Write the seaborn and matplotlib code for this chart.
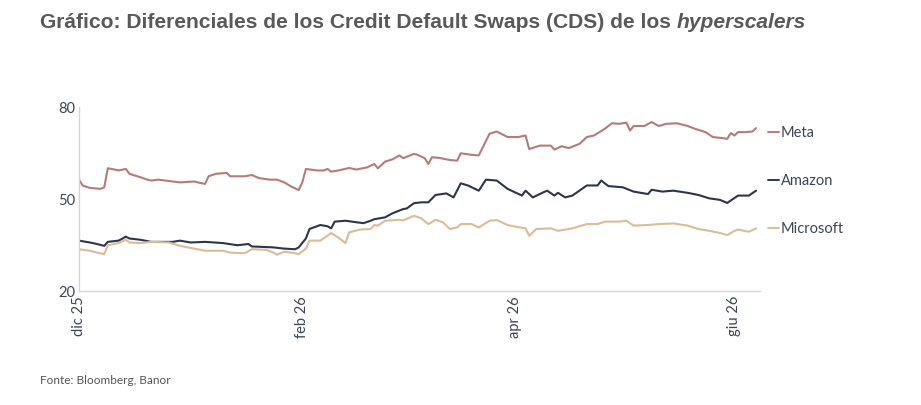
import pandas as pd
import seaborn as sns
import matplotlib.pyplot as plt

# values (bp)
meta_dates = ["2025-12-01", "2025-12-02", "2025-12-04", "2025-12-07", "2025-12-08", "2025-12-09",
              "2025-12-10", "2025-12-12", "2025-12-14", "2025-12-15", "2025-12-18", "2025-12-20",
              "2025-12-21", "2025-12-23", "2025-12-27", "2025-12-29", "2026-01-02", "2026-01-03",
              "2026-01-05", "2026-01-06", "2026-01-08", "2026-01-11", "2026-01-12", "2026-01-16",
              "2026-01-18", "2026-01-20", "2026-01-23", "2026-01-25", "2026-01-27", "2026-01-29",
              "2026-01-31", "2026-02-01", "2026-02-02", "2026-02-05", "2026-02-07", "2026-02-08",
              "2026-02-09", "2026-02-11", "2026-02-14", "2026-02-16", "2026-02-19", "2026-02-21",
              "2026-02-22", "2026-02-24", "2026-02-26", "2026-02-28", "2026-03-01", "2026-03-04",
              "2026-03-05", "2026-03-07", "2026-03-08", "2026-03-09", "2026-03-11", "2026-03-14",
              "2026-03-16", "2026-03-17", "2026-03-20", "2026-03-22", "2026-03-25", "2026-03-27",
              "2026-03-30", "2026-04-02", "2026-04-04", "2026-04-05", "2026-04-08", "2026-04-11",
              "2026-04-12", "2026-04-14", "2026-04-16", "2026-04-19", "2026-04-21", "2026-04-23",
              "2026-04-26", "2026-04-28", "2026-04-30", "2026-05-02", "2026-05-03", "2026-05-04",
              "2026-05-07", "2026-05-09", "2026-05-11", "2026-05-13", "2026-05-16", "2026-05-19",
              "2026-05-21", "2026-05-24", "2026-05-26", "2026-05-29", "2026-05-30", "2026-05-31",
              "2026-06-01", "2026-06-02", "2026-06-04", "2026-06-06", "2026-06-07"]
meta_vals = [56.3, 54.4, 53.6, 53.3, 53.8, 60.0, 59.8, 59.3, 59.8, 58.2, 57.1, 56.3,
             56.0, 56.3, 55.7, 55.4, 55.7, 55.4, 54.9, 57.4, 58.2, 58.5, 57.4, 57.4,
             57.8, 56.8, 56.3, 56.3, 55.4, 54.0, 52.9, 55.4, 59.8, 59.3, 59.3, 59.8,
             58.9, 59.3, 60.1, 59.6, 60.3, 61.4, 60.0, 62.2, 62.9, 64.2, 63.3, 64.7,
             64.4, 63.3, 61.4, 63.6, 63.4, 62.7, 62.5, 64.9, 64.4, 64.2, 71.3, 72.0,
             70.2, 70.2, 70.7, 66.3, 67.4, 67.4, 66.1, 67.2, 66.6, 68.0, 70.2, 70.7,
             72.9, 74.7, 74.5, 74.9, 72.3, 73.8, 73.8, 75.1, 73.8, 74.5, 74.7, 73.8,
             72.9, 71.8, 70.2, 69.8, 69.6, 71.5, 70.7, 71.8, 71.8, 72.0, 73.1]

amazon_dates = ["2025-12-01", "2025-12-04", "2025-12-06", "2025-12-08", "2025-12-09", "2025-12-12",
                "2025-12-14", "2025-12-15", "2025-12-18", "2025-12-21", "2025-12-27", "2025-12-29",
                "2026-01-01", "2026-01-05", "2026-01-10", "2026-01-14", "2026-01-17", "2026-01-18",
                "2026-01-24", "2026-01-27", "2026-01-30", "2026-01-31", "2026-02-02", "2026-02-03",
                "2026-02-06", "2026-02-08", "2026-02-09", "2026-02-10", "2026-02-13", "2026-02-16",
                "2026-02-18", "2026-02-20", "2026-02-21", "2026-02-24", "2026-02-26", "2026-03-01",
                "2026-03-02", "2026-03-04", "2026-03-06", "2026-03-08", "2026-03-10", "2026-03-13",
                "2026-03-15", "2026-03-17", "2026-03-19", "2026-03-22", "2026-03-24", "2026-03-27",
                "2026-03-30", "2026-04-01", "2026-04-03", "2026-04-04", "2026-04-06", "2026-04-09",
                "2026-04-10", "2026-04-12", "2026-04-13", "2026-04-15", "2026-04-17", "2026-04-21",
                "2026-04-24", "2026-04-25", "2026-04-27", "2026-05-01", "2026-05-04", "2026-05-08",
                "2026-05-09", "2026-05-12", "2026-05-15", "2026-05-19", "2026-05-22", "2026-05-25",
                "2026-05-28", "2026-05-30", "2026-06-02", "2026-06-05", "2026-06-07"]
amazon_vals = [36.4, 35.8, 35.3, 34.7, 36.0, 36.4, 37.7, 37.1, 36.7, 36.0, 36.0, 36.4,
               35.8, 36.0, 35.6, 34.9, 35.3, 34.5, 34.2, 33.8, 33.6, 34.2, 37.1, 40.2,
               41.5, 41.1, 40.4, 42.6, 42.9, 42.4, 42.1, 42.9, 43.4, 44.0, 45.3, 46.7,
               46.9, 48.6, 48.9, 48.9, 51.3, 51.8, 50.5, 55.1, 54.4, 52.7, 56.3, 56.0,
               53.3, 52.2, 51.1, 52.7, 50.5, 52.2, 52.7, 51.1, 52.0, 50.5, 51.1, 54.4,
               54.4, 56.0, 54.2, 53.8, 52.4, 51.6, 53.0, 52.4, 52.7, 52.0, 51.3, 50.2,
               49.7, 48.7, 51.1, 51.1, 52.7]

microsoft_dates = ["2025-12-01", "2025-12-04", "2025-12-06", "2025-12-08", "2025-12-09", "2025-12-12",
                   "2025-12-14", "2025-12-15", "2025-12-18", "2025-12-21", "2025-12-26", "2025-12-29",
                   "2026-01-02", "2026-01-05", "2026-01-10", "2026-01-12", "2026-01-16", "2026-01-18",
                   "2026-01-22", "2026-01-24", "2026-01-25", "2026-01-27", "2026-01-30", "2026-01-31",
                   "2026-02-02", "2026-02-03", "2026-02-06", "2026-02-08", "2026-02-09", "2026-02-11",
                   "2026-02-13", "2026-02-14", "2026-02-17", "2026-02-20", "2026-02-21", "2026-02-22",
                   "2026-02-24", "2026-02-28", "2026-03-01", "2026-03-04", "2026-03-06", "2026-03-08",
                   "2026-03-10", "2026-03-12", "2026-03-14", "2026-03-16", "2026-03-17", "2026-03-20",
                   "2026-03-22", "2026-03-25", "2026-03-27", "2026-03-30", "2026-04-01", "2026-04-04",
                   "2026-04-05", "2026-04-07", "2026-04-11", "2026-04-13", "2026-04-17", "2026-04-21",
                   "2026-04-24", "2026-04-26", "2026-04-30", "2026-05-02", "2026-05-04", "2026-05-08",
                   "2026-05-11", "2026-05-15", "2026-05-19", "2026-05-22", "2026-05-25", "2026-05-28",
                   "2026-05-30", "2026-06-01", "2026-06-02", "2026-06-05", "2026-06-07"]
microsoft_vals = [33.6, 33.1, 32.5, 32.0, 34.9, 35.6, 36.7, 35.8, 35.6, 36.0, 35.8, 34.7,
                  33.8, 33.1, 33.1, 32.5, 32.3, 33.6, 33.4, 32.5, 31.8, 32.8, 32.3, 32.0,
                  33.8, 36.4, 36.4, 38.0, 38.9, 37.4, 35.6, 39.1, 40.0, 40.2, 41.5, 41.3,
                  42.9, 43.2, 43.0, 44.5, 43.7, 41.8, 43.2, 42.4, 40.2, 40.7, 41.8, 41.8,
                  40.7, 42.9, 43.1, 41.5, 41.0, 40.4, 38.0, 40.2, 40.4, 39.6, 40.4, 41.8,
                  41.8, 42.6, 42.6, 42.9, 41.3, 41.5, 41.8, 42.0, 41.3, 40.2, 39.6, 38.9,
                  38.2, 39.6, 40.0, 39.3, 40.4]

series_names = ["Meta", "Amazon", "Microsoft"]
colors = ["#b47c78", "#2b3648", "#d8bd98"]
tick_dates = ["2025-12-01", "2026-02-01", "2026-04-01", "2026-06-01"]
tick_labels = ["dic 25", "feb 26", "apr 26", "giu 26"]
y_ticks = [20, 50, 80]

frames = []
for name, d, v in [("Meta", meta_dates, meta_vals),
                   ("Amazon", amazon_dates, amazon_vals),
                   ("Microsoft", microsoft_dates, microsoft_vals)]:
    frames.append(pd.DataFrame({"date": pd.to_datetime(d), "cds": v, "name": name}))
df = pd.concat(frames, ignore_index=True)

sns.set_style("white")
plt.rcParams["font.family"] = ["Lato", "DejaVu Sans"]

fig = plt.figure(figsize=(9.21, 4.06), dpi=100)
ax = fig.add_axes([0.0858, 0.281, 0.739, 0.453])

sns.lineplot(data=df, x="date", y="cds", hue="name", hue_order=series_names,
             palette=colors, linewidth=1.5, legend=False, ax=ax)

ax.set_xlim(pd.Timestamp("2025-12-01"), pd.Timestamp("2026-06-08"))
ax.set_ylim(20, 80)
ax.set_yticks(y_ticks)
ax.set_xticks(pd.to_datetime(tick_dates))
ax.set_xticklabels(tick_labels, rotation=90, va="top", ha="center")
ax.set_xlabel("")
ax.set_ylabel("")
ax.tick_params(axis="both", length=0, labelsize=10.5, labelcolor="#3b4656", pad=3)

for side in ["top", "right"]:
    ax.spines[side].set_visible(False)
for side in ["left", "bottom"]:
    ax.spines[side].set_color("#d4d4d4")
    ax.spines[side].set_linewidth(1.0)

# series labels on the right
label_y = [0.865, 0.604, 0.342]
for name, c, yy in zip(series_names, colors, label_y):
    ax.plot([1.012, 1.029], [yy, yy], color=c, lw=1.4, transform=ax.transAxes, clip_on=False)
    ax.text(1.031, yy, name, transform=ax.transAxes, va="center", ha="left",
            fontsize=10.5, color="#3b4656")

# title with italic tail
title_font = ["Liberation Sans", "DejaVu Sans"]
t1 = fig.text(40 / 921, 1 - 22 / 406,
              "Gráfico: Diferenciales de los Credit Default Swaps (CDS) de los ",
              fontsize=15.1, fontweight="bold", color="#595959", family=title_font,
              va="center", ha="left")
fig.canvas.draw()
bb = t1.get_window_extent(renderer=fig.canvas.get_renderer())
fig.text(bb.x1 / 921, 1 - 22 / 406, "hyperscalers", fontsize=15.1, fontweight="bold",
         style="italic", color="#595959", family=title_font, va="center", ha="left")

fig.text(40 / 921, 1 - 381 / 406, "Fonte: Bloomberg, Banor", fontsize=8.5,
         color="#555555", va="center", ha="left")

fig.savefig("out.png", dpi=100)
